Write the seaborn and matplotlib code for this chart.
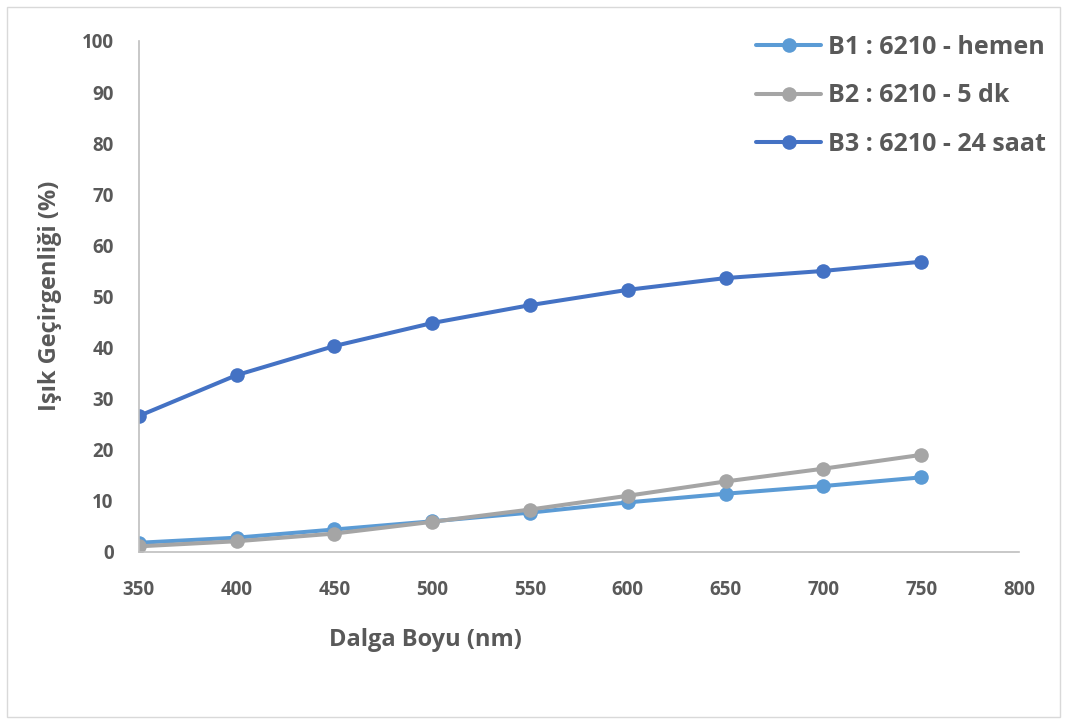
import pandas as pd
import numpy as np
import seaborn as sns
import matplotlib.pyplot as plt
from matplotlib.patches import Rectangle

# wavelength (nm) and transmittance (%)
wavelength = [350, 400, 450, 500, 550, 600, 650, 700, 750]
b1_hemen = [1.8, 2.8, 4.4, 6.0, 7.7, 9.7, 11.4, 12.9, 14.6]
b2_5dk = [1.1, 2.1, 3.6, 5.9, 8.3, 11.0, 13.8, 16.3, 19.0]
b3_24saat = [26.6, 34.6, 40.3, 44.8, 48.3, 51.3, 53.6, 55.0, 56.8]

labels = ["B1 : 6210 - hemen", "B2 : 6210 - 5 dk", "B3 : 6210 - 24 saat"]
colors = ["#5B9BD5", "#A5A5A5", "#4472C4"]

df = pd.concat([
    pd.DataFrame({"wl": wavelength, "T": b1_hemen, "seri": labels[0]}),
    pd.DataFrame({"wl": wavelength, "T": b2_5dk, "seri": labels[1]}),
    pd.DataFrame({"wl": wavelength, "T": b3_24saat, "seri": labels[2]}),
])

sns.set_style("white")
plt.rcParams['font.family'] = ['Open Sans', 'DejaVu Sans']
txt = "#595959"

fig = plt.figure(figsize=(10.67, 7.24), dpi=100)
ax = fig.add_axes([0.130, 0.2376, 0.825, 0.7058])

sns.lineplot(data=df, x="wl", y="T", hue="seri", palette=colors, hue_order=labels,
             marker="o", markersize=10.5, markeredgewidth=0, linewidth=2.9, ax=ax)

ax.set_xlim(350, 800)
ax.set_ylim(0, 100)
ax.set_xticks(np.arange(350, 801, 50))
ax.set_yticks(np.arange(0, 101, 10))
for lab in ax.get_xticklabels() + ax.get_yticklabels():
    lab.set_fontweight("bold")
    lab.set_color(txt)
    lab.set_fontsize(13.5)
ax.tick_params(axis="x", length=0, pad=20)
ax.tick_params(axis="y", length=0, pad=18)

for s in ["top", "right"]:
    ax.spines[s].set_visible(False)
for s in ["left", "bottom"]:
    ax.spines[s].set_color("#BFBFBF")
    ax.spines[s].set_linewidth(1.2)

ax.set_xlabel("")
ax.set_ylabel("")
fig.text(425 / 1067, 1 - 640 / 724, "Dalga Boyu (nm)", ha="center", va="center",
         fontsize=17, fontweight="bold", color=txt)
fig.text(50 / 1067, 1 - 296 / 724, "Işık Geçirgenliği (%)", ha="center", va="center",
         rotation=90, fontsize=17, fontweight="bold", color=txt)

leg = ax.legend(loc="upper right", bbox_to_anchor=(1058 / 1067, 1 - 22 / 724),
                bbox_transform=fig.transFigure, frameon=False,
                prop={"size": 18, "weight": "bold"}, labelspacing=0.95,
                handlelength=2.6, handletextpad=0.25, borderpad=0)
for t in leg.get_texts():
    t.set_color(txt)

fig.patches.append(Rectangle((7 / 1067, 7 / 724), 1 - 14 / 1067, 1 - 14 / 724,
                             transform=fig.transFigure, fill=False,
                             edgecolor="#D9D9D9", linewidth=1))

fig.savefig("out.png", dpi=100)
